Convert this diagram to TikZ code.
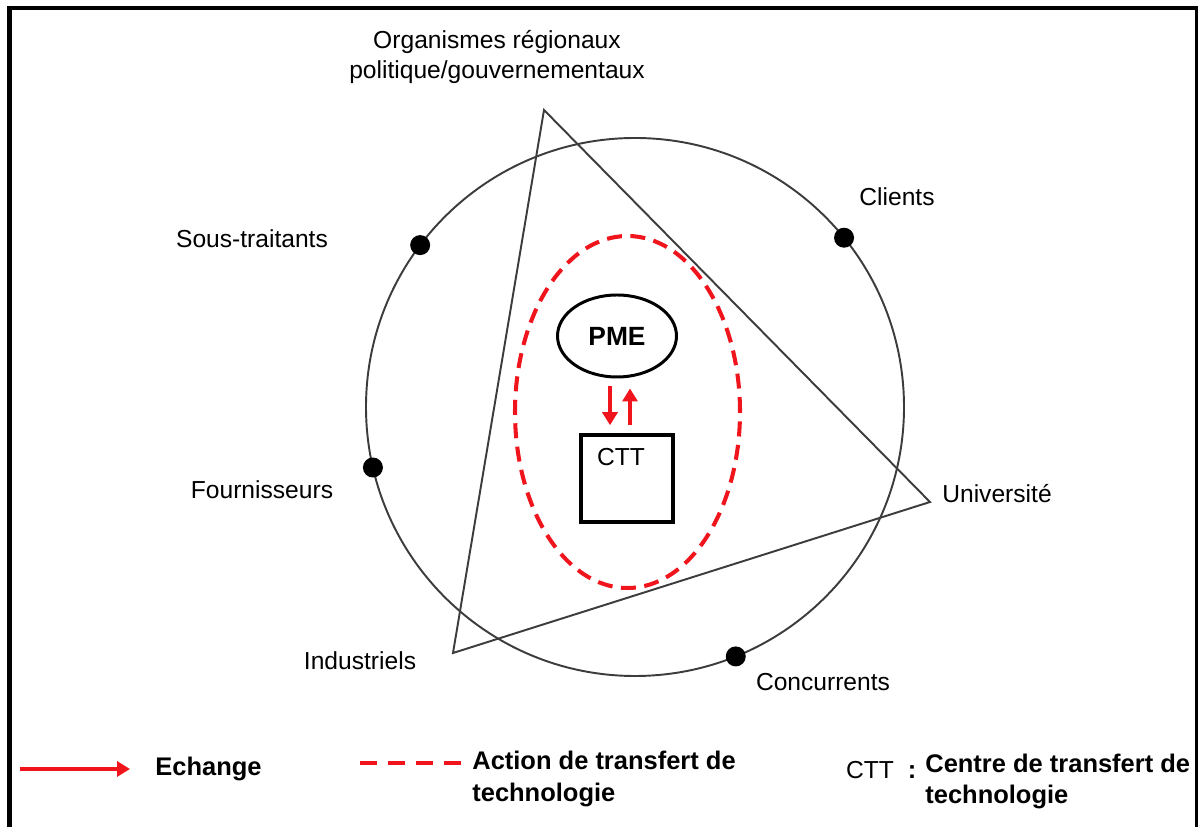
\documentclass[tikz,border=0pt]{standalone}
\usepackage{xcolor}
\usepackage{fontspec}
\setmainfont{Liberation Sans}
\usetikzlibrary{arrows.meta, positioning, shapes.geometric}
\definecolor{trred}{RGB}{240,20,28}
\definecolor{ringgray}{RGB}{60,60,60}

\begin{document}
\begin{tikzpicture}[>={Triangle[length=0.26cm,width=0.30cm]},
				lbl/.style={font=\fontsize{14}{17}\selectfont, align=center},
				legtxt/.style={font=\fontsize{14.5}{18}\selectfont\bfseries, align=left, anchor=west, inner sep=0pt},
				dot/.style={circle, fill=black, inner sep=0pt, minimum size=0.40cm},
				exch/.style={->, trred, line width=2.1pt},
				trdash/.style={trred, line width=2.3pt, dash pattern=on 0.30cm off 0.17cm}]
				\useasboundingbox (0,0) rectangle (23.96,16.54);
				% frame
				\draw[line width=2.4pt] (0.19,0) -- (0.19,16.38) -- (23.96,16.38);
				\draw[line width=1.2pt] (23.93,16.38) -- (23.93,0);
				% ring and triangle
				\node at (12.70,8.40) (ring) [circle, draw=ringgray, line width=1.1pt, minimum size=10.76cm, inner sep=0pt, outer sep=0pt] {};
				\coordinate (tritop) at (10.88,14.34);
				\coordinate (triright) at (18.60,6.50);
				\coordinate (trileft) at (9.06,3.48);
				\draw[ringgray, line width=1.1pt, line join=miter] (tritop) -- (triright) -- (trileft) -- cycle;
				\node (soustr) [dot] at (ring.143) {};
				\node (clients) [dot] at (ring.39) {};
				\node (fourn) [dot] at (ring.193) {};
				\node (concur) [dot] at (ring.-68) {};
				% actors
				\node at (9.94,15.40) (orgreg) [lbl] {Organismes régionaux\\politique/gouvernementaux};
				\node at (17.94,12.60) (lclients) [lbl] {Clients};
				\node at (5.04,11.76) (lsoustr) [lbl] {Sous-traitants};
				\node at (5.24,6.74) (lfourn) [lbl] {Fournisseurs};
				\node at (19.94,6.66) (luniv) [lbl] {Université};
				\node at (7.20,3.32) (lindus) [lbl] {Industriels};
				\node at (16.46,2.90) (lconcur) [lbl] {Concurrents};
				% transfer zone
				\node at (12.55,8.30) (action) [ellipse, draw, trdash, minimum width=4.5cm, minimum height=7.04cm, inner sep=0pt] {};
				\node at (12.34,9.82) (pme) [ellipse, draw, line width=1.7pt, minimum width=2.38cm, minimum height=1.64cm, inner sep=0pt, font=\fontsize{15}{18}\selectfont\bfseries] {PME};
				\node at (12.54,6.97) (ctt) [rectangle, draw, line width=2pt, minimum width=1.84cm, minimum height=1.74cm] {};
				\node (ctttxt) [below=0.18cm of ctt.north, xshift=-0.12cm, lbl] {CTT};
				\coordinate (dn) at ([xshift=-0.34cm]ctt.north);
				\coordinate (up) at ([xshift=0.06cm]ctt.north);
				\draw[exch, shorten <=0.16cm, shorten >=0.16cm] (dn |- pme.south) -- (dn);
				\draw[exch, shorten <=0.16cm, shorten >=0.20cm] (up) -- (up |- pme.south);
				% legend
				\node at (3.10,1.16) (echange) [legtxt] {Echange};
				\coordinate (legA) at (0.40,1.16);
				\draw[exch, line width=2.4pt, shorten >=0.5cm] (legA) -- (echange.west);
				\node at (9.44,0.96) (actlbl) [legtxt] {Action de transfert de\\technologie};
				\coordinate (legB) at (7.20,1.28);
				\draw[trred, line width=2.3pt, dash pattern=on 0.34cm off 0.22cm, shorten >=0.2cm] (legB) -- (legB -| actlbl.west);
				\node at (17.40,1.14) (cttkey) [lbl] {CTT};
				\node at (18.24,1.10) (colon) [font=\fontsize{14.5}{18}\selectfont\bfseries] {:};
				\node at (18.50,0.91) (cttdef) [legtxt] {Centre de transfert de\\technologie};
			\end{tikzpicture}
\end{document}
